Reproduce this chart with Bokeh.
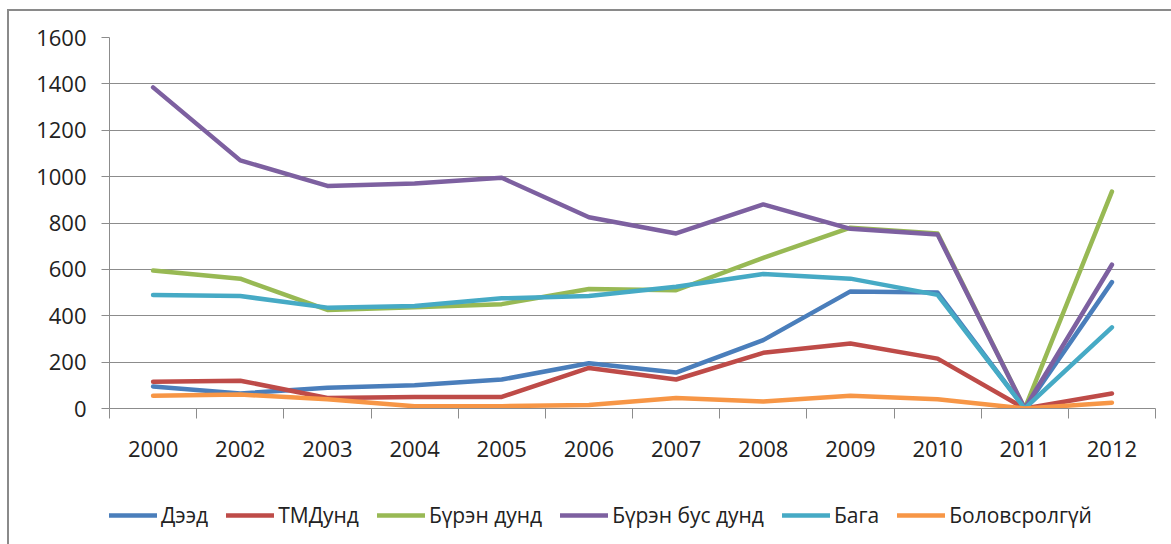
from bokeh.plotting import figure
from bokeh.models import (Range1d, FactorRange, LinearAxis, FixedTicker, CustomJSTickFormatter,
                          Legend, LegendItem, ColumnDataSource)
from bokeh.layouts import column
from bokeh.embed import file_html
from bokeh.resources import INLINE

years = ["2000", "2002", "2003", "2004", "2005", "2006", "2007", "2008", "2009", "2010", "2011", "2012"]

deed = [95, 65, 90, 100, 125, 195, 155, 295, 505, 500, 0, 545]
tmdund = [115, 120, 45, 50, 50, 175, 125, 240, 280, 215, 0, 65]
buren_dund = [595, 560, 425, 437, 450, 515, 510, 650, 780, 755, 0, 935]
buren_bus_dund = [1385, 1070, 960, 970, 995, 825, 755, 880, 775, 750, 0, 620]
baga = [490, 485, 435, 442, 475, 485, 525, 580, 560, 490, 0, 350]
bolovsrolgui = [55, 60, 40, 10, 10, 15, 45, 30, 55, 40, 0, 25]

series_names = ["Дээд", "ТМДунд", "Бүрэн дунд", "Бүрэн бус дунд", "Бага", "Боловсролгүй"]
series_values = [deed, tmdund, buren_dund, buren_bus_dund, baga, bolovsrolgui]
colors = ["#4A7EBB", "#BE4B48", "#98B954", "#7D60A0", "#46AAC5", "#F79646"]

y_ticks = [0, 200, 400, 600, 800, 1000, 1200, 1400, 1600]

FONT = "Open Sans"
GRID = "#8c8c8c"
TEXT = "#222222"
W = 1162

# ---------------- main chart ----------------
p = figure(width=W, height=469, output_backend="svg", toolbar_location=None,
           x_range=FactorRange(factors=years, range_padding=0),
           y_range=Range1d(0, 1600), x_axis_location=None, y_axis_location=None)
p.min_border_left = 100
p.min_border_top = 26
p.min_border_right = 16
p.min_border_bottom = 72
p.outline_line_color = None
p.background_fill_color = "white"
p.border_fill_color = "white"

yax = LinearAxis(ticker=FixedTicker(ticks=y_ticks))
yax.axis_line_color = GRID
yax.major_tick_line_color = GRID
yax.major_tick_out = 8
yax.major_tick_in = 0
yax.minor_tick_line_color = None
yax.major_label_standoff = 15
yax.major_label_text_font = FONT
yax.major_label_text_font_size = "22px"
yax.major_label_text_color = TEXT
p.add_layout(yax, "left")

n = len(years)
xax = LinearAxis(ticker=FixedTicker(ticks=[i + 0.5 for i in range(n)],
                                    minor_ticks=list(range(n + 1))),
                 formatter=CustomJSTickFormatter(args=dict(cats=years),
                                                 code="return cats[Math.floor(tick)]"))
xax.axis_line_color = GRID
xax.major_tick_line_color = None
xax.major_tick_out = 10
xax.major_tick_in = 0
xax.minor_tick_line_color = GRID
xax.minor_tick_out = 10
xax.minor_tick_in = 0
xax.major_label_standoff = 22
xax.major_label_text_font = FONT
xax.major_label_text_font_size = "22px"
xax.major_label_text_color = TEXT
p.add_layout(xax, "below")

p.xgrid.visible = False
p.ygrid.ticker = FixedTicker(ticks=y_ticks)
p.ygrid.grid_line_color = GRID
p.ygrid.grid_line_width = 1

for name, vals, col in zip(series_names, series_values, colors):
    src = ColumnDataSource(dict(x=years, y=vals))
    p.line("x", "y", source=src, line_color=col, line_width=4.5, line_join="round", line_cap="round")

# ---------------- legend strip ----------------
lf = figure(width=W, height=64, output_backend="svg", toolbar_location=None,
            x_range=FactorRange(factors=years, range_padding=0),
            y_range=Range1d(5000, 6000), x_axis_location=None, y_axis_location=None)
lf.min_border_left = 100
lf.min_border_right = 16
lf.min_border_top = 0
lf.min_border_bottom = 0
lf.outline_line_color = None
lf.grid.visible = False
lf.background_fill_color = "white"
lf.border_fill_color = "white"

items = []
for name, vals, col in zip(series_names, series_values, colors):
    src = ColumnDataSource(dict(x=years, y=vals))
    r = lf.line("x", "y", source=src, line_color=col, line_width=4.5, line_cap="round")
    items.append(LegendItem(label=name, renderers=[r]))

legend = Legend(items=items, orientation="horizontal", location=(0, 15))
legend.label_text_font = FONT
legend.label_text_font_size = "21px"
legend.label_text_color = TEXT
legend.glyph_width = 48
legend.glyph_height = 20
legend.label_standoff = 4
legend.spacing = 18
legend.padding = 4
legend.margin = 0
legend.border_line_color = None
legend.background_fill_alpha = 0
lf.add_layout(legend, "center")

page = column(p, lf, spacing=0,
              styles={"border-top": "2px solid #8a8a8a", "border-left": "2px solid #8a8a8a",
                      "margin-left": "7px", "margin-top": "9px"})

open("out.html", "w").write(file_html(page, INLINE))
